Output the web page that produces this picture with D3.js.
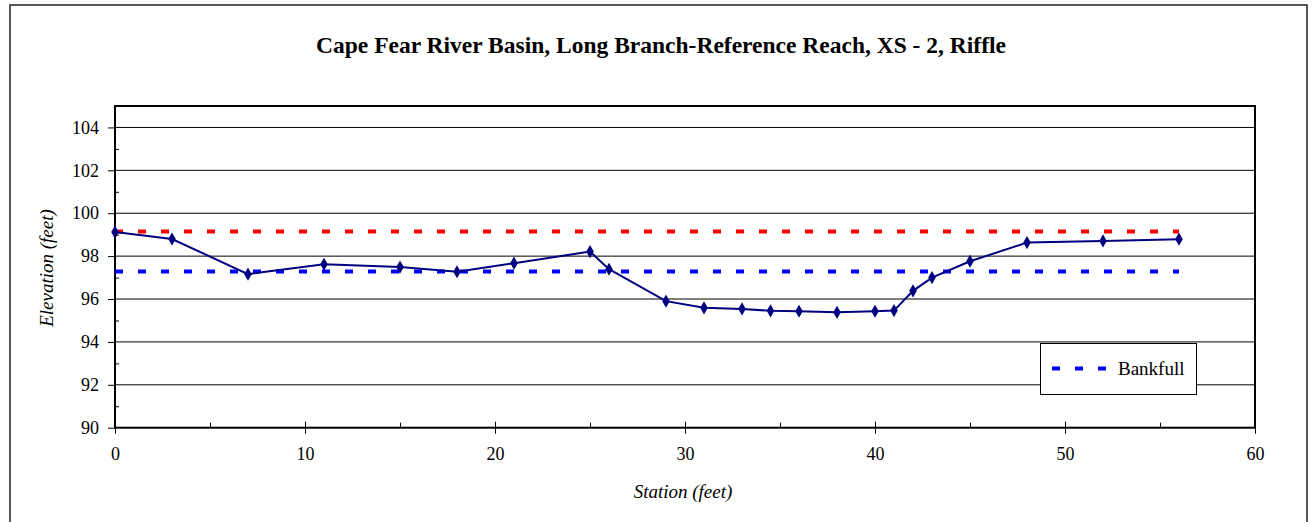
<!DOCTYPE html>
<html><head><meta charset="utf-8">
<script src="https://cdn.jsdelivr.net/npm/d3@7"></script>
<style>body{margin:0;background:#fff;} svg{display:block;font-family:"Liberation Serif","Times New Roman",serif;}</style>
</head><body><div id="chart"></div>
<script>
const title = "Cape Fear River Basin, Long Branch-Reference Reach, XS - 2, Riffle";
const station   = [0, 3, 7, 11, 15, 18, 21, 25, 26, 29, 31, 33, 34.5, 36, 38, 40, 41, 42, 43, 45, 48, 52, 56];
const elevation = [99.12, 98.8, 97.16, 97.62, 97.49, 97.27, 97.67, 98.21, 97.39, 95.9, 95.59, 95.54, 95.45, 95.43, 95.38, 95.43, 95.46, 96.38, 97.0, 97.76, 98.63, 98.71, 98.79];
const topBankX = [0, 56], topBankY = [99.15, 99.15];
const bankfullX = [0, 56], bankfullY = [97.28, 97.28];
const xTicks = [0, 10, 20, 30, 40, 50, 60];
const yTicks = [90, 92, 94, 96, 98, 100, 102, 104];
const legendLabels = ["Bankfull"];

const W = 1312, H = 522;
const svg = d3.select("#chart").append("svg").attr("width", W).attr("height", H);
// outer frame
svg.append("rect").attr("x", 10).attr("y", 5).attr("width", 1297).attr("height", 530)
  .attr("fill", "none").attr("stroke", "#222").attr("stroke-width", 1.5);

const L = 115, R = 1255, T = 106, B = 427.7;
const x = d3.scaleLinear().domain([0, 60]).range([L, R]);
const y = d3.scaleLinear().domain([90, 105]).range([B, T]);

// grid
svg.append("g").selectAll("line").data(yTicks.filter(v => v > 90)).join("line")
  .attr("x1", L).attr("x2", R).attr("y1", d => y(d)).attr("y2", d => y(d))
  .attr("stroke", "#000").attr("stroke-width", 1);

// plot border
svg.append("rect").attr("x", L).attr("y", T).attr("width", R - L).attr("height", B - T)
  .attr("fill", "none").attr("stroke", "#000").attr("stroke-width", 2);

// y axis
const yAx = svg.append("g").attr("transform", `translate(${L},0)`)
  .call(d3.axisLeft(y).tickValues(yTicks).tickSize(7).tickPadding(9).tickFormat(d3.format("d")));
yAx.select(".domain").remove();
yAx.selectAll("text").attr("font-size", 18).attr("fill", "#000").attr("font-family", "Liberation Serif");
svg.append("g").attr("transform", `translate(${L},0)`)
  .call(d3.axisLeft(y).tickValues(d3.range(91, 105, 2)).tickSize(-4).tickFormat(""))
  .select(".domain").remove();

// x axis
const xAx = svg.append("g").attr("transform", `translate(0,${B})`)
  .call(d3.axisBottom(x).tickValues(xTicks).tickSize(6).tickPadding(14).tickFormat(d3.format("d")));
xAx.select(".domain").remove();
xAx.selectAll("text").attr("font-size", 18).attr("fill", "#000").attr("font-family", "Liberation Serif");
xAx.selectAll(".tick line").attr("y1", -6);
svg.append("g").attr("transform", `translate(0,${B})`)
  .call(d3.axisBottom(x).tickValues(d3.range(5, 60, 10)).tickSize(-5).tickFormat(""))
  .select(".domain").remove();

// dashed lines
const line = d3.line().x(d => x(d[0])).y(d => y(d[1]));
svg.append("path").datum(d3.zip(topBankX, topBankY)).attr("d", line)
  .attr("stroke", "#ff0000").attr("stroke-width", 4).attr("stroke-dasharray", "8,15").attr("fill", "none");
svg.append("path").datum(d3.zip(bankfullX, bankfullY)).attr("d", line)
  .attr("stroke", "#0000ff").attr("stroke-width", 4).attr("stroke-dasharray", "8,15").attr("fill", "none");

// data line
const pts = d3.zip(station, elevation);
svg.append("path").datum(pts).attr("d", line)
  .attr("stroke", "#000080").attr("stroke-width", 2).attr("fill", "none");
svg.append("g").selectAll("path").data(pts).join("path")
  .attr("transform", d => `translate(${x(d[0])},${y(d[1])})`)
  .attr("d", d3.symbol(d3.symbolDiamond, 50)).attr("fill", "#000080");

// title
svg.append("text").attr("x", 661).attr("y", 53).attr("text-anchor", "middle")
  .attr("font-size", 23.5).attr("font-weight", "bold").text(title);
// axis titles
svg.append("text").attr("transform", "translate(53,268) rotate(-90)").attr("text-anchor", "middle")
  .attr("font-size", 19).attr("font-style", "italic").text("Elevation (feet)");
svg.append("text").attr("x", 683).attr("y", 498).attr("text-anchor", "middle")
  .attr("font-size", 19).attr("font-style", "italic").text("Station (feet)");

// legend
const lg = svg.append("g");
lg.append("rect").attr("x", 1040.5).attr("y", 343.5).attr("width", 156).attr("height", 51)
  .attr("fill", "#fff").attr("stroke", "#000").attr("stroke-width", 1);
lg.append("line").attr("x1", 1052).attr("x2", 1107).attr("y1", 368.5).attr("y2", 368.5)
  .attr("stroke", "#0000ff").attr("stroke-width", 4).attr("stroke-dasharray", "8,15");
lg.append("text").attr("x", 1118).attr("y", 375).attr("font-size", 19).text(legendLabels[0]);
</script></body></html>
